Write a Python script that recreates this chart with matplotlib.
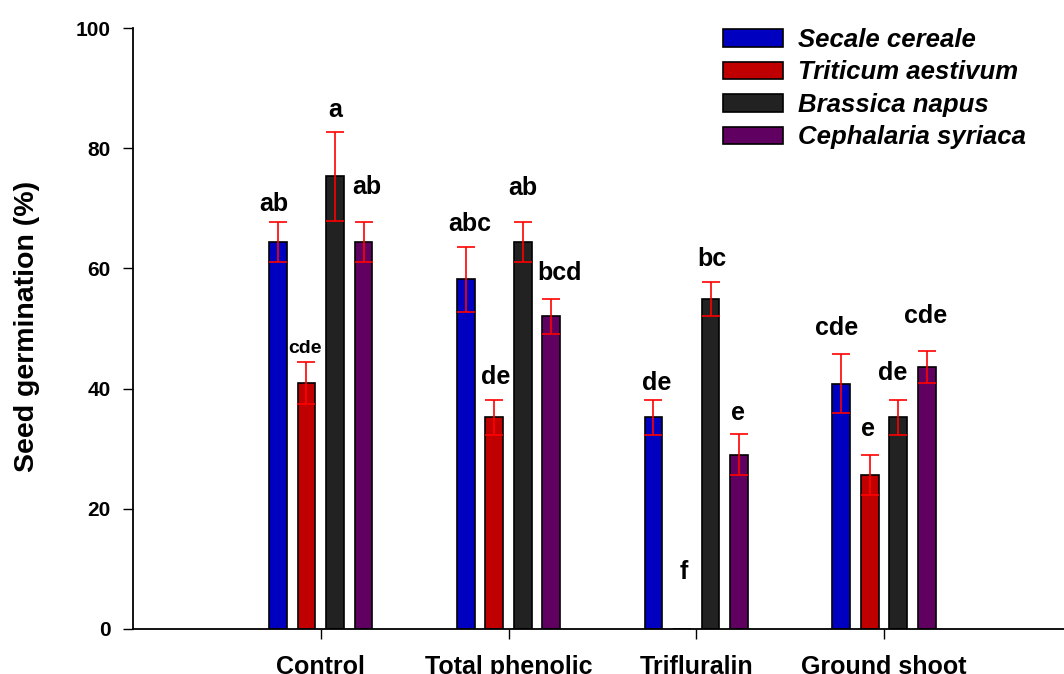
import matplotlib
matplotlib.use("Agg")
import matplotlib.pyplot as plt
import numpy as np

categories = ["Control", "Total phenolic", "Trifluralin", "Ground shoot"]
species = ["Secale cereale", "Triticum aestivum", "Brassica napus", "Cephalaria syriaca"]

secale = [64.4, 58.2, 35.2, 40.8]
secale_err = [3.3, 5.4, 2.9, 4.9]
triticum = [40.9, 35.2, 0.0, 25.6]
triticum_err = [3.5, 2.9, 0.0, 3.3]
brassica = [75.3, 64.4, 54.9, 35.2]
brassica_err = [7.4, 3.3, 2.8, 2.9]
cephalaria = [64.4, 52.0, 29.0, 43.6]
cephalaria_err = [3.3, 2.9, 3.4, 2.7]

letters = [
    ["ab", "cde", "a", "ab"],
    ["abc", "de", "ab", "bcd"],
    ["de", "f", "bc", "e"],
    ["cde", "e", "de", "cde"],
]
letter_y = [
    [70.7, 46.6, 86.4, 73.5],
    [67.4, 41.9, 73.4, 59.2],
    [41.0, 9.5, 61.6, 35.9],
    [50.1, 33.3, 42.6, 52.1],
]
letter_dx = [
    [-3, -1, 0, 2],
    [3, 1, 0, 6],
    [2, 1, 1, -1],
    [-3, -1, -4, -1],
]

colors = ["#0000C0", "#C00000", "#222222", "#600060"]

W, H = 1064, 674
fig = plt.figure(figsize=(W / 100, H / 100), dpi=100)
ax_left = 133 / W
ax_bottom = (H - 629) / H
ax_height = (629 - 28) / H
ax_width = (1071.8 - 133) / W
ax = fig.add_axes([ax_left, ax_bottom, ax_width, ax_height])

series = [secale, triticum, brassica, cephalaria]
errs = [secale_err, triticum_err, brassica_err, cephalaria_err]
x = np.arange(1, len(categories) + 1)
step = 0.152
bw = 0.095

for i, (vals, ev, col, name) in enumerate(zip(series, errs, colors, species)):
    xs = x + (i - 1.5) * step
    ax.bar(xs, vals, width=bw, color=col, edgecolor="black", linewidth=1.2,
           label=name, zorder=2)
    ev = np.array(ev)
    vals = np.array(vals)
    m = ev > 0
    ax.errorbar(xs[m], vals[m], yerr=ev[m], fmt="none", ecolor="#FF0000",
                elinewidth=1.2, capsize=6.8, capthick=1.2, zorder=3)

for j in range(len(categories)):
    for i in range(len(species)):
        xc = x[j] + (i - 1.5) * step
        fs = 14 if (j == 0 and i == 1) else 18
        ax.annotate(letters[j][i], (xc, letter_y[j][i]), xytext=(letter_dx[j][i], 0),
                    textcoords="offset points", ha="center", va="center",
                    fontsize=fs, fontweight="bold", family="Liberation Sans")

ax.set_xlim(0, 5)
ax.set_ylim(0, 100)
ax.set_yticks([0, 20, 40, 60, 80, 100])
ax.set_xticks(x)
ax.set_xticklabels(categories)
for sp in ["top", "right"]:
    ax.spines[sp].set_visible(False)
for sp in ["left", "bottom"]:
    ax.spines[sp].set_linewidth(1.3)
ax.tick_params(axis="y", direction="out", length=7.2, width=1, pad=9,
               labelsize=15)
ax.tick_params(axis="x", direction="out", length=7, width=1, pad=12,
               labelsize=18)
for lab in ax.get_xticklabels() + ax.get_yticklabels():
    lab.set_fontweight("bold")
    lab.set_family("Liberation Sans")

fig.text(27 / W, 1 - 326 / H, "Seed germination (%)", rotation=90,
         ha="center", va="center", fontsize=20.5, fontweight="bold",
         family="Liberation Sans")

leg = fig.legend(loc="upper left", bbox_to_anchor=(723 / W, 1 - 28 / H),
                 frameon=False, borderpad=0, borderaxespad=0,
                 handlelength=2.33, handleheight=0.66, handletextpad=0.58,
                 labelspacing=0.33,
                 prop={"family": "Liberation Sans", "weight": "bold",
                       "style": "italic", "size": 18.5})

fig.savefig("out.png", dpi=100)
